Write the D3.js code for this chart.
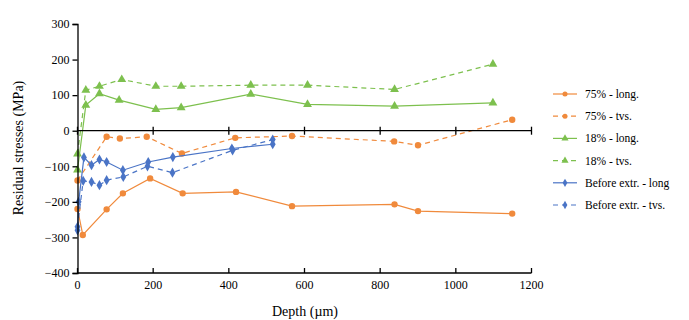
<!DOCTYPE html>
<html>
<head>
<meta charset="utf-8">
<script src="https://cdn.jsdelivr.net/npm/d3@7"></script>
<style>
  body { margin: 0; background: #fff; }
  svg text { font-family: "Liberation Serif", "Times New Roman", serif !important; }
</style>
</head>
<body>
<svg id="chart" width="689" height="320"></svg>
<script>
// depth (µm) and residual stress (MPa)
var depth75Long = [0, 14, 77, 120, 192, 278, 419, 567, 838, 900, 1149];
var stress75Long = [-220, -293, -221, -176, -134, -176, -172, -212, -207, -226, -233];
var depth75Tvs = [0, 77, 112, 183, 276, 417, 567, 837, 900, 1149];
var stress75Tvs = [-140, -17, -22, -17, -64, -20, -15, -30, -41, 31];
var depth18Long = [0, 22, 58, 110, 207, 274, 458, 608, 838, 1098];
var stress18Long = [-110, 72, 104, 86, 60, 65, 103, 74, 69, 78];
var depth18Tvs = [0, 22, 58, 117, 207, 274, 458, 608, 838, 1098];
var stress18Tvs = [-65, 114, 125, 144, 125, 125, 128, 128, 116, 187];
var depthBeforeLong = [0, 3, 17, 37, 58, 77, 120, 187, 252, 408, 516];
var stressBeforeLong = [-280, -200, -75, -97, -81, -88, -111, -88, -74, -50, -38];
var depthBeforeTvs = [0, 15, 37, 58, 77, 121, 185, 251, 410, 516];
var stressBeforeTvs = [-270, -141, -144, -153, -139, -130, -100, -118, -55, -25];

var seriesNames = ["75% - long.", "75% - tvs.", "18% - long.", "18% - tvs.", "Before extr. - long", "Before extr. - tvs."];
var xTicks = [0, 200, 400, 600, 800, 1000, 1200];
var yTicks = [-400, -300, -200, -100, 0, 100, 200, 300];

var orange = "#F08A3C", green = "#7DC04E", blue = "#4A74C6";

var series = [
  {name: seriesNames[0], xs: depth75Long, ys: stress75Long, color: orange, dashed: false, marker: "circle"},
  {name: seriesNames[1], xs: depth75Tvs, ys: stress75Tvs, color: orange, dashed: true, marker: "circle"},
  {name: seriesNames[2], xs: depth18Long, ys: stress18Long, color: green, dashed: false, marker: "triangle"},
  {name: seriesNames[3], xs: depth18Tvs, ys: stress18Tvs, color: green, dashed: true, marker: "triangle"},
  {name: seriesNames[4], xs: depthBeforeLong, ys: stressBeforeLong, color: blue, dashed: false, marker: "diamond"},
  {name: seriesNames[5], xs: depthBeforeTvs, ys: stressBeforeTvs, color: blue, dashed: true, marker: "diamond"}
];

var svg = d3.select("#chart");
var x = d3.scaleLinear().domain([0, 1200]).range([77.5, 531.5]);
var y = d3.scaleLinear().domain([-400, 300]).range([273, 24]);

var symbols = {
  circle: d3.symbol().type(d3.symbolCircle).size(32),
  triangle: d3.symbol().type(d3.symbolTriangle).size(34),
  diamond: d3.symbol().type(d3.symbolDiamond).size(30)
};
var legendSymbols = {
  circle: d3.symbol().type(d3.symbolCircle).size(20),
  triangle: d3.symbol().type(d3.symbolTriangle).size(22),
  diamond: d3.symbol().type(d3.symbolDiamond).size(20)
};

// series lines and markers
series.forEach(function(s) {
  var pts = s.xs.map(function(d, i) { return [d, s.ys[i]]; });
  var line = d3.line().x(function(d) { return x(d[0]); }).y(function(d) { return y(d[1]); });
  svg.append("path")
    .attr("d", line(pts))
    .attr("fill", "none")
    .attr("stroke", s.color)
    .attr("stroke-width", 1.2)
    .attr("stroke-dasharray", s.dashed ? "5,4" : null);
  svg.selectAll(null)
    .data(pts)
    .enter()
    .append("path")
    .attr("d", symbols[s.marker])
    .attr("transform", function(d) { return "translate(" + x(d[0]) + "," + y(d[1]) + ")"; })
    .attr("fill", s.color);
});

// axis at y = 0 with crossing ticks
svg.append("line")
  .attr("x1", x(0)).attr("x2", x(1200))
  .attr("y1", y(0)).attr("y2", y(0))
  .attr("stroke", "#000").attr("stroke-width", 1.3);
svg.selectAll(null).data(xTicks).enter().append("line")
  .attr("x1", function(d) { return x(d); }).attr("x2", function(d) { return x(d); })
  .attr("y1", y(0) - 4).attr("y2", y(0) + 4)
  .attr("stroke", "#000").attr("stroke-width", 1.3);

// bottom line at -400 with inner ticks and labels
svg.append("line")
  .attr("x1", x(0)).attr("x2", x(1200))
  .attr("y1", y(-400)).attr("y2", y(-400))
  .attr("stroke", "#000").attr("stroke-width", 1.3);
svg.selectAll(null).data(xTicks).enter().append("line")
  .attr("x1", function(d) { return x(d); }).attr("x2", function(d) { return x(d); })
  .attr("y1", y(-400) - 5).attr("y2", y(-400))
  .attr("stroke", "#000").attr("stroke-width", 1.3);
svg.selectAll(null).data(xTicks).enter().append("text")
  .attr("x", function(d) { return x(d); })
  .attr("y", y(-400) + 16)
  .attr("text-anchor", "middle")
  .attr("font-size", 12)
  .text(function(d) { return d; });

// y axis
var yAxis = d3.axisLeft(y).tickValues(yTicks).tickSize(5).tickPadding(3);
var yg = svg.append("g").attr("transform", "translate(" + x(0) + ",0)").call(yAxis);
yg.select(".domain").attr("stroke-width", 1.3);
yg.selectAll(".tick line").attr("stroke-width", 1.3);
yg.selectAll("text").attr("font-size", 12);

// axis titles
svg.append("text")
  .attr("transform", "translate(23,148) rotate(-90)")
  .attr("text-anchor", "middle")
  .attr("font-size", 14)
  .text("Residual stresses (MPa)");
svg.append("text")
  .attr("x", 305).attr("y", 316)
  .attr("text-anchor", "middle")
  .attr("font-size", 14)
  .text("Depth (µm)");

// legend
var legend = svg.selectAll(null).data(series).enter().append("g")
  .attr("transform", function(d, i) { return "translate(553," + (94 + i * 22.2) + ")"; });
legend.append("line")
  .attr("x1", 0).attr("x2", 24)
  .attr("stroke", function(d) { return d.color; })
  .attr("stroke-width", 1.2)
  .attr("stroke-dasharray", function(d) { return d.dashed ? "5,4" : null; });
legend.append("path")
  .attr("d", function(d) { return legendSymbols[d.marker](); })
  .attr("transform", "translate(12,0)")
  .attr("fill", function(d) { return d.color; });
legend.append("text")
  .attr("x", 32).attr("y", 4)
  .attr("font-size", 11.5)
  .text(function(d) { return d.name; });
</script>
</body>
</html>
